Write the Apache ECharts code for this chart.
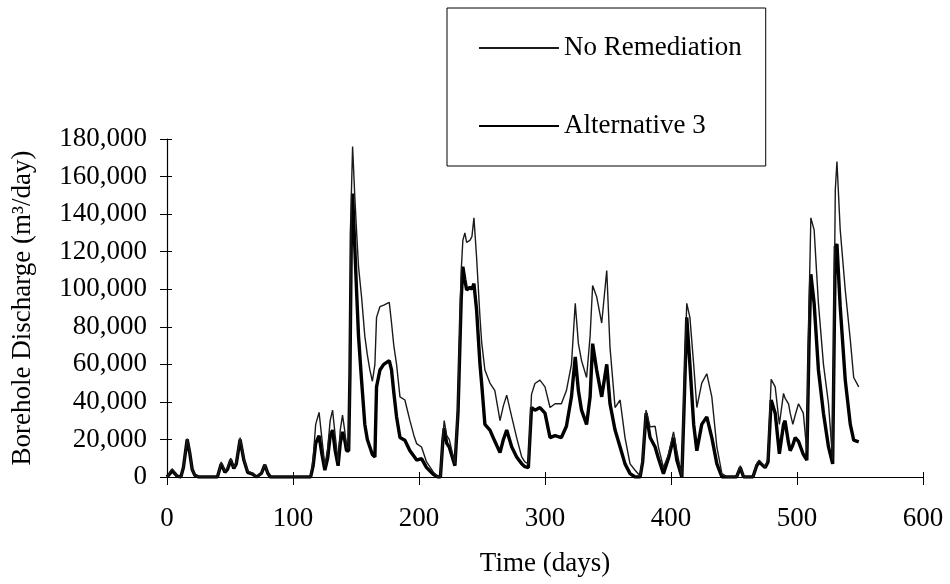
<!DOCTYPE html>
<html>
<head>
<meta charset="utf-8">
<title>Borehole Discharge</title>
<script src="https://cdn.jsdelivr.net/npm/echarts@6/dist/echarts.min.js"></script>
<style>
  html, body { margin: 0; padding: 0; background: #fff; }
  #chart { width: 950px; height: 584px; }
</style>
</head>
<body>
<div id="chart"></div>
<script>
// time (days) and discharge (m3/day)
var days = [
  0, 2, 4, 6, 8, 11, 13, 16, 18, 20, 22, 25, 40, 43, 46, 48, 50.6, 53, 55, 58,
  61, 64, 68, 71, 75, 77.6, 80, 82, 114, 116, 118, 120.7, 123, 125.3, 127.5, 129.5, 131.4, 133.5, 135.8, 137.5,
  139.3, 141, 142.5, 144.2, 145.2, 146.3, 147.3, 149, 150.4, 152, 154.4, 157, 159, 161, 163, 165, 166.3, 169, 172, 176.4,
  178.2, 180, 182.2, 184.9, 188.8, 192.8, 196, 198.1, 202, 206, 211.3, 215, 217, 219, 220, 222, 224, 228.5, 231, 233.5,
  234.8, 236.4, 237.8, 240.4, 242, 243.6, 245.7, 248.4, 249.7, 252.3, 256.3, 260.2, 264.3, 267, 269.6, 273.6, 277.5, 281.5, 284, 286.8,
  289.3, 292, 296, 300, 304, 308, 313, 317, 321, 324, 326.5, 329, 333, 335.8, 337.8, 341, 345, 349, 351.6, 355.6,
  359.6, 363.5, 367.5, 371.5, 375.5, 377.5, 380.2, 383.4, 387.4, 390, 394, 398, 402, 404.6, 408.6, 410.5, 412.5, 415, 418, 420.5,
  424.4, 428.4, 432.4, 436.4, 440.4, 445, 452, 455, 457.6, 465, 468, 470, 474.7, 477, 479.5, 482.7, 486, 489.3, 490.5, 493.3,
  494.6, 496.7, 498.6, 501.2, 505, 507.8, 509.5, 511, 513.6, 517, 521, 525, 528.3, 530.4, 531.7, 534.3, 538.3, 542.3, 545, 549
];

var noRemediation = [
  0, 2000, 4400, 2500, 500, 0, 5000, 20400, 14000, 4000, 1000, 0, 0, 8000, 3000, 5000, 10000, 5000, 8000, 21000,
  10000, 3000, 2000, 0, 2000, 6800, 2000, 0, 0, 10000, 28000, 34400, 20000, 6000, 15000, 30000, 35600, 22000, 8000, 25000,
  33000, 25000, 16000, 15000, 60000, 150000, 176000, 150000, 131600, 112000, 96000, 75000, 65000, 57000, 51000, 60000, 85000, 90700, 91500, 93000,
  82000, 70000, 60000, 42700, 41000, 30000, 22000, 17800, 16000, 8000, 2700, 0, 0, 22000, 30000, 22000, 20000, 7000, 40000, 110000,
  126000, 130000, 125000, 126000, 128000, 138000, 117000, 85000, 72000, 57000, 50000, 46000, 30000, 38000, 43600, 32000, 21000, 10700, 8000, 7000,
  44000, 49800, 51600, 48000, 37000, 39000, 39000, 46000, 60000, 92500, 71000, 62000, 53000, 75000, 102000, 96000, 82000, 110000, 69000, 37000,
  41000, 21000, 7000, 3600, 500, 10000, 35600, 26700, 27000, 16000, 5000, 12000, 24000, 14000, 0, 50000, 92500, 85000, 60000, 37000,
  50000, 55000, 42700, 16000, 1800, 0, 0, 6000, 0, 0, 7000, 9000, 5000, 10000, 52000, 48000, 28000, 44500, 42000, 39000,
  34000, 28000, 33000, 39000, 34000, 14000, 90000, 138000, 131600, 92500, 60000, 39000, 9000, 153000, 168000, 131600, 99600, 73000, 53000, 48000
];

var alternative3 = [
  0, 1500, 3500, 2000, 500, 0, 5000, 20000, 13000, 4000, 1000, 0, 0, 7000, 2500, 4000, 9000, 4500, 7000, 20000,
  9000, 2500, 1500, 0, 2000, 6500, 2000, 0, 0, 6000, 18000, 22000, 12000, 3600, 10000, 22000, 25000, 14000, 6000, 18000,
  24000, 20000, 14000, 14000, 55000, 130000, 151000, 123000, 100000, 75000, 51600, 28000, 20000, 16000, 12000, 10700, 48000, 57000, 60000, 62000,
  57000, 45000, 32000, 21000, 19600, 14000, 11000, 9000, 9800, 5000, 1500, 0, 0, 20000, 26000, 18000, 16000, 6000, 35000, 95000,
  112000, 105000, 99600, 101000, 100000, 103000, 89000, 60000, 50000, 28000, 25000, 19000, 13000, 20000, 25000, 16000, 10700, 7000, 5500, 5000,
  37000, 35600, 37000, 34000, 21000, 22000, 21000, 27000, 42700, 64000, 46000, 35600, 28000, 42700, 71000, 57000, 42700, 60000, 39000, 25000,
  16000, 7000, 1800, 0, 0, 8000, 34000, 21000, 16000, 10000, 1800, 10000, 21000, 9000, 0, 40000, 85000, 60000, 28000, 14000,
  28000, 32000, 21000, 7000, 0, 0, 0, 5000, 0, 0, 6000, 8000, 5000, 8000, 41000, 34000, 12400, 28000, 30000, 18000,
  14000, 17000, 21000, 19000, 12000, 9000, 70000, 108000, 92500, 57000, 34000, 16000, 7000, 122700, 124000, 90700, 51600, 28000, 19600, 18700
];

var xTicks = [0, 100, 200, 300, 400, 500, 600];
var yTicks = [0, 20000, 40000, 60000, 80000, 100000, 120000, 140000, 160000, 180000];

var FONT = '"Liberation Serif", "Times New Roman", serif';
var FONT_SIZE = 27;

function pairs(xs, ys) {
  return xs.map(function (x, i) { return [x, ys[i]]; });
}

function withCommas(v) {
  return String(v).replace(/\B(?=(\d{3})+(?!\d))/g, ',');
}

var xMin = xTicks[0], xMax = xTicks[xTicks.length - 1], xStep = xTicks[1] - xTicks[0];
var yMin = yTicks[0], yMax = yTicks[yTicks.length - 1], yStep = yTicks[1] - yTicks[0];

// the original ticks cross the axis line, so a second bare axis draws the inner half
function tickOnlyAxis(min, max, step, pos) {
  return {
    type: 'value', position: pos, min: min, max: max, interval: step,
    axisLine: { show: false },
    axisTick: { show: true, inside: true, length: 5, lineStyle: { color: '#000', width: 1 } },
    axisLabel: { show: false },
    splitLine: { show: false }
  };
}

var chart = echarts.init(document.getElementById('chart'), null, { renderer: 'canvas' });

chart.setOption({
  backgroundColor: '#fff',
  animation: false,
  textStyle: { fontFamily: FONT, color: '#000' },
  grid: { left: 167, top: 139, right: 27, bottom: 107, containLabel: false },
  legend: {
    orient: 'vertical',
    left: 447,
    top: 8,
    padding: [25, 24, 25, 31],
    itemGap: 48,
    itemWidth: 80,
    itemHeight: 4,
    // plain line swatches, no marker dot
    itemStyle: { opacity: 0 },
    borderColor: '#000',
    borderWidth: 1,
    backgroundColor: '#fff',
    textStyle: { fontFamily: FONT, fontSize: FONT_SIZE, color: '#000', lineHeight: 30 },
    data: ['No Remediation', 'Alternative 3']
  },
  xAxis: [{
    type: 'value',
    position: 'bottom',
    min: xMin, max: xMax, interval: xStep,
    name: 'Time (days)',
    nameLocation: 'middle',
    nameGap: 73,
    nameTextStyle: { fontFamily: FONT, fontSize: FONT_SIZE, color: '#000' },
    axisLine: { show: true, onZero: false, lineStyle: { color: '#000', width: 1.2 } },
    axisTick: { show: true, length: 8, lineStyle: { color: '#000', width: 1 } },
    axisLabel: { margin: 28, fontFamily: FONT, fontSize: FONT_SIZE, color: '#000' },
    splitLine: { show: false }
  }, tickOnlyAxis(xMin, xMax, xStep, 'bottom')],
  yAxis: [{
    type: 'value',
    position: 'left',
    min: yMin, max: yMax, interval: yStep,
    name: 'Borehole Discharge (m\u00b3/day)',
    nameLocation: 'middle',
    nameGap: 131,
    nameTextStyle: { fontFamily: FONT, fontSize: FONT_SIZE, color: '#000' },
    axisLine: { show: true, onZero: false, lineStyle: { color: '#000', width: 1.2 } },
    axisTick: { show: true, length: 7, lineStyle: { color: '#000', width: 1 } },
    axisLabel: { margin: 20, fontFamily: FONT, fontSize: FONT_SIZE, color: '#000', formatter: withCommas },
    splitLine: { show: false }
  }, tickOnlyAxis(yMin, yMax, yStep, 'left')],
  series: [{
    name: 'No Remediation',
    type: 'line',
    xAxisIndex: 0, yAxisIndex: 0,
    symbol: 'none',
    lineStyle: { color: '#1a1a1a', width: 1.4 },
    itemStyle: { color: '#1a1a1a' },
    z: 3,
    data: pairs(days, noRemediation)
  }, {
    name: 'Alternative 3',
    type: 'line',
    xAxisIndex: 0, yAxisIndex: 0,
    symbol: 'none',
    lineStyle: { color: '#000', width: 3.4 },
    itemStyle: { color: '#000' },
    z: 2,
    data: pairs(days, alternative3)
  }]
});
</script>
</body>
</html>
